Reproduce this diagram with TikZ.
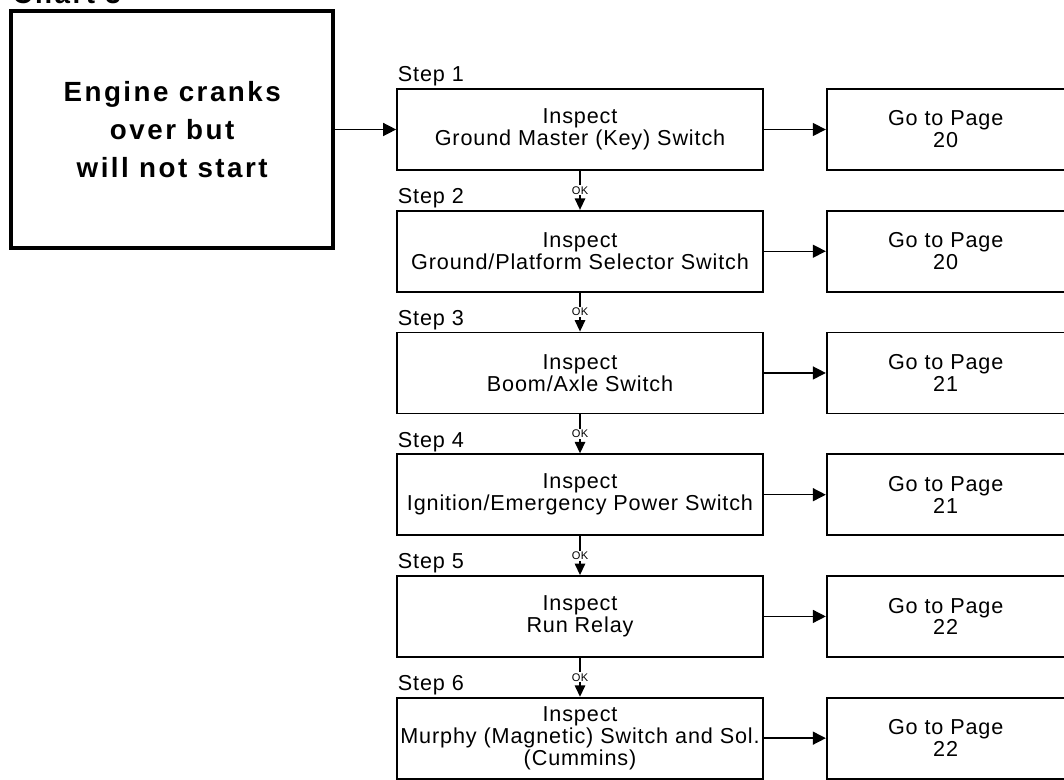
\documentclass[tikz,border=0pt]{standalone}
\usepackage{fontspec}
\setmainfont{Liberation Sans}[LetterSpace=4]
\newfontfamily\widebold{Liberation Sans}[LetterSpace=9]
\usetikzlibrary{positioning, arrows.meta}
\tikzstyle{block}=[draw,fill=white,rectangle,line width=1pt,align=center,inner sep=0pt,font=\fontsize{12.3}{12.5}\selectfont]
\tikzstyle{stepblock}=[block,minimum width=7.32cm,minimum height=1.62cm]
\tikzstyle{pageblock}=[block,minimum width=4.76cm,minimum height=1.62cm]
\tikzstyle{startblock}=[draw,line width=2.3pt,minimum width=6.44cm,minimum height=4.74cm,align=center,font=\widebold\bfseries\fontsize{15.8}{21.6}\selectfont]
\tikzstyle{chartlabel}=[inner sep=0pt,font=\widebold\bfseries\fontsize{15.8}{21.6}\selectfont]
\tikzstyle{steplabel}=[inner sep=0pt,font=\fontsize{12.3}{12.5}\selectfont]
\tikzstyle{ok}=[fill=white,inner sep=0.6pt,font=\fontsize{6.3}{6.5}\selectfont]
\tikzstyle{okarrow}=[-{Triangle[length=2.3mm,width=2.1mm]}]

\begin{document}
\begin{tikzpicture}[x=0.02cm,y=-0.02cm,line width=0.8pt,>={Triangle[length=2.6mm,width=2.6mm]}]
            \useasboundingbox (0,0) rectangle (1064,780);
            % steps down the middle
            \node[stepblock] (s1) at (580,129.5) {Inspect\\Ground Master (Key) Switch};
            \node[stepblock, below=0.78cm of s1] (s2) {Inspect\\Ground/Platform Selector Switch};
            \node[stepblock, below=0.78cm of s2] (s3) {Inspect\\Boom/Axle Switch};
            \node[stepblock, below=0.78cm of s3] (s4) {Inspect\\Ignition/Emergency Power Switch};
            \node[stepblock, below=0.78cm of s4] (s5) {Inspect\\Run Relay};
            \node[stepblock, below=0.78cm of s5] (s6) {Inspect\\Murphy (Magnetic) Switch and Sol.\\(Cummins)};
            % step labels
            \node[steplabel, above right=0.2mm and 0.2mm of s1.north west] (st1) {Step 1};
            \node[steplabel, above right=0.2mm and 0.2mm of s2.north west] (st2) {Step 2};
            \node[steplabel, above right=0.2mm and 0.2mm of s3.north west] (st3) {Step 3};
            \node[steplabel, above right=0.2mm and 0.2mm of s4.north west] (st4) {Step 4};
            \node[steplabel, above right=0.2mm and 0.2mm of s5.north west] (st5) {Step 5};
            \node[steplabel, above right=0.2mm and 0.2mm of s6.north west] (st6) {Step 6};
            % page boxes
            \node[pageblock, right=1.24cm of s1] (p1) {Go to Page\\20};
            \node[pageblock, right=1.24cm of s2] (p2) {Go to Page\\20};
            \node[pageblock, right=1.24cm of s3] (p3) {Go to Page\\21};
            \node[pageblock, right=1.24cm of s4] (p4) {Go to Page\\21};
            \node[pageblock, right=1.24cm of s5] (p5) {Go to Page\\22};
            \node[pageblock, right=1.24cm of s6] (p6) {Go to Page\\22};
            % start
            \node[startblock, left=1.22cm of s1] (start) {Engine cranks\\over but\\will not start};
            \node[chartlabel, anchor=base west] (chart) at (12,4) {Chart 3};
            \draw[->] (start) -- (s1);
            \draw[->] (s1) -- (p1);
            \draw[->] (s2) -- (p2);
            \draw[->] (s3) -- (p3);
            \draw[->] (s4) -- (p4);
            \draw[->] (s5) -- (p5);
            \draw[->] (s6) -- (p6);
            \draw[okarrow] (s1) -- node[ok] {OK} (s2);
            \draw[okarrow] (s2) -- node[ok] {OK} (s3);
            \draw[okarrow] (s3) -- node[ok] {OK} (s4);
            \draw[okarrow] (s4) -- node[ok] {OK} (s5);
            \draw[okarrow] (s5) -- node[ok] {OK} (s6);
        \end{tikzpicture}
\end{document}
